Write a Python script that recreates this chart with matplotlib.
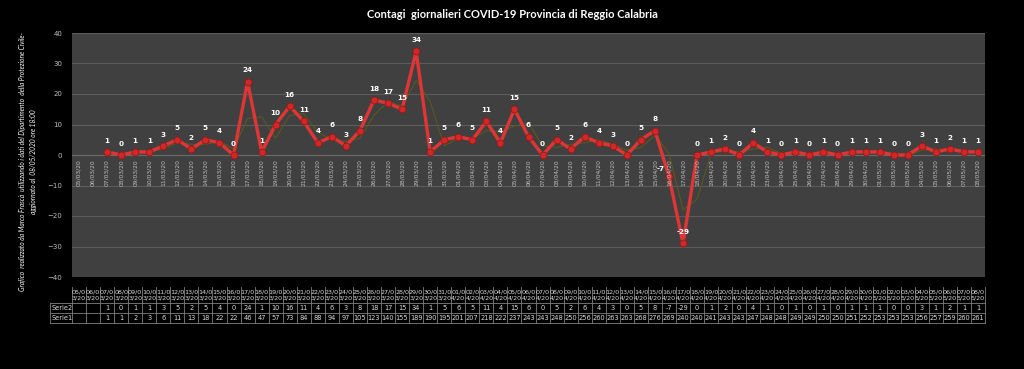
import matplotlib
matplotlib.use("Agg")
import matplotlib.pyplot as plt
from matplotlib.lines import Line2D
import numpy as np
import pandas as pd

# dates 05/03/20 .. 08/05/20
dates = (
    [f"{d:02d}/03/20" for d in range(5, 32)]
    + [f"{d:02d}/04/20" for d in range(1, 31)]
    + [f"{d:02d}/05/20" for d in range(1, 9)]
)

# daily new cases (Serie2), None where missing
serie2 = [None, None,
          1, 0, 1, 1, 3, 5, 2, 5, 4, 0, 24, 1, 10, 16, 11, 4, 6, 3, 8, 18, 17, 15, 34, 1, 5,
          6, 5, 11, 4, 15, 6, 0, 5, 2, 6, 4, 3, 0, 5, 8, -7, -29, 0, 1, 2, 0, 4, 1, 0, 1, 0, 1, 0, 1, 1,
          1, 0, 0, 3, 1, 2, 1, 1]

# cumulative cases (Serie1)
serie1 = [None, None,
          1, 1, 2, 3, 6, 11, 13, 18, 22, 22, 46, 47, 57, 73, 84, 88, 94, 97, 105, 123, 140, 155, 189, 190, 195,
          201, 207, 218, 222, 237, 243, 243, 248, 250, 256, 260, 263, 263, 268, 276, 269, 240, 240, 241, 243,
          243, 247, 248, 248, 249, 249, 250, 250, 251, 252,
          253, 253, 253, 256, 257, 259, 260, 261]

title = "Contagi  giornalieri COVID-19 Provincia di Reggio Calabria"
side_note = ("Grafico  realizzato da Marco Frascà  utilizzando i dati del Dipartimento  della Protezione Civile-\n"
             "aggiornato al  08/05/2020 ore 18:00")

W, H = 1024, 369
fig = plt.figure(figsize=(W / 100, H / 100), dpi=100)
fig.patch.set_facecolor("black")

# plot area in pixels
L, R, T, B = 72, 985, 33, 277
ax = fig.add_axes([L / W, 1 - B / H, (R - L) / W, (B - T) / H])
ax.set_facecolor("#404040")

x = np.arange(len(dates))
y = pd.Series([np.nan if v is None else v for v in serie2], dtype=float)
ma = y.rolling(2).mean()  # excel-style 2 period moving average trendline

ax.plot(x, ma, color="#5c5a1c", lw=0.75, zorder=2)
ax.plot(x, y, color="#e03535", lw=2.4, zorder=3,
        marker="o", ms=5, mfc="#d02828", mec="#961818", mew=0.6)

for i, v in enumerate(serie2):
    if v is None:
        continue
    off = (0, 6)
    if v == -7:
        off = (-6, 3)  # keep clear of the date label below it
    ax.annotate(str(v), (i, v), xytext=off, textcoords="offset points",
                ha="center", va="bottom", color="white", fontsize=5.2,
                fontweight="bold", zorder=4)

ax.set_xlim(-0.5, len(dates) - 0.5)
ax.set_ylim(-40, 40)
ax.set_yticks(range(-40, 41, 10))
ax.grid(axis="y", color="#5c5c5c", lw=0.8)
ax.set_axisbelow(True)
ax.axhline(0, color="#6a6a6a", lw=0.8, zorder=1)
for s in ax.spines.values():
    s.set_visible(False)
ax.tick_params(axis="y", length=0, colors="#bfbfbf", labelsize=5, pad=7)
ax.set_xticks([])

# rotated date labels just under the zero line
for i, d in enumerate(dates):
    ax.annotate(d, (i, 0), xytext=(0, -3), textcoords="offset points",
                rotation=90, ha="center", va="top", color="#bfbfbf", fontsize=4.3)

# data table under the plot
def fx(px):
    return px / W

def fy(py):
    return 1 - py / H

ncol = len(dates)
cw = (R - L) / ncol
grid_c = "#7f7f7f"
rows_y = [303, 313, 323]
for yy in rows_y:
    fig.add_artist(Line2D([fx(50), fx(R)], [fy(yy), fy(yy)], color=grid_c, lw=0.6))
for k in range(ncol + 1):
    xx = L + k * cw
    fig.add_artist(Line2D([fx(xx), fx(xx)], [fy(287), fy(323)], color=grid_c, lw=0.6))
fig.add_artist(Line2D([fx(50), fx(50)], [fy(303), fy(323)], color=grid_c, lw=0.6))

tc = "#d9d9d9"
for k, d in enumerate(dates):
    cx = L + (k + 0.5) * cw
    fig.text(fx(cx), fy(295), d[:4] + "\n" + d[4:], ha="center", va="center",
             color=tc, fontsize=4.6, linespacing=1.25)
    if serie2[k] is not None:
        fig.text(fx(cx), fy(308), str(serie2[k]), ha="center", va="center", color=tc, fontsize=4.8)
    if serie1[k] is not None:
        fig.text(fx(cx), fy(318), str(serie1[k]), ha="center", va="center", color=tc, fontsize=4.8)
fig.text(fx(51.5), fy(308), "Serie2", ha="left", va="center", color=tc, fontsize=4.8)
fig.text(fx(51.5), fy(318), "Serie1", ha="left", va="center", color=tc, fontsize=4.8)

fig.text(0.5, fy(14), title, ha="center", va="center", color="white",
         fontsize=8, fontweight="bold", family="Lato")
fig.text(fx(28), fy(162), side_note, rotation=90, ha="center", va="center",
         color="white", fontsize=4.8, style="italic", multialignment="center",
         linespacing=1.7, family="Lato")

fig.savefig("out.png", dpi=100, facecolor=fig.get_facecolor())
